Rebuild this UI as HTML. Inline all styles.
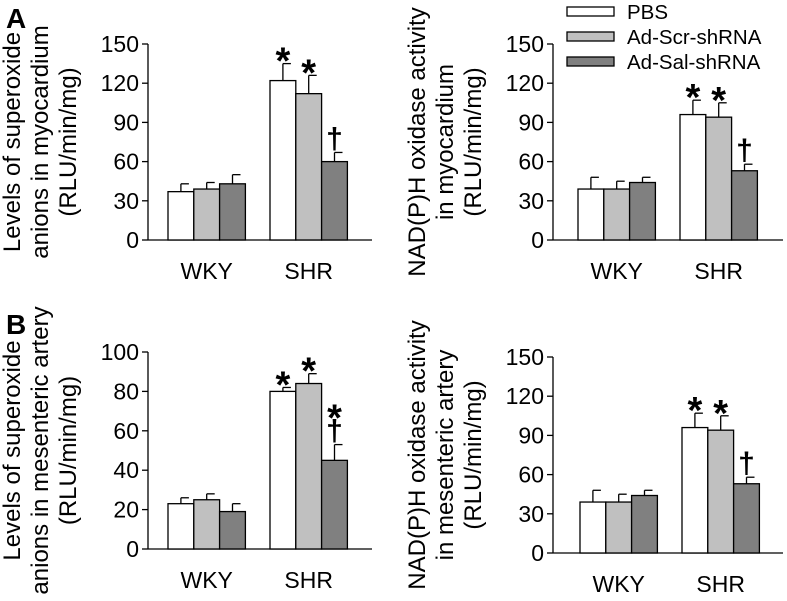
<!DOCTYPE html>
<html><head><meta charset="utf-8"><style>
body{margin:0;background:#fff;}
svg{display:block;font-family:"Liberation Sans",Arial,sans-serif;}
</style></head><body>
<svg id="fig" width="787" height="601" viewBox="0 0 787 601"></svg>
<script>
const groups = ["WKY","SHR"];
const seriesNames = ["PBS","Ad-Scr-shRNA","Ad-Sal-shRNA"];
const colors = ["#ffffff","#c0c0c0","#808080"];
// panel A left
const aLeftVals = [[37,39,43],[122,112,60]];
const aLeftErr = [[43,44,50],[135,126,67]];
const aLeftMarks = [["","",""],["*","*","†"]];
// panel A right
const aRightVals = [[39,39,44],[96,94,53]];
const aRightErr = [[48,45,48],[107,105,58]];
const aRightMarks = [["","",""],["*","*","†"]];
// panel B left
const bLeftVals = [[23,25,19],[80,84,45]];
const bLeftErr = [[26,28,23],[82,89,53]];
const bLeftMarks = [["","",""],["*","*","*†"]];
// panel B right
const bRightVals = [[39,39,44],[96,94,53]];
const bRightErr = [[48,45,48],[107,105,58]];
const bRightMarks = [["","",""],["*","*","†"]];
const ticks150 = [0,30,60,90,120,150];
const ticks100 = [0,20,40,60,80,100];

const NS="http://www.w3.org/2000/svg";
const svg=document.getElementById('fig');
function mk(tag,attrs,parent){const e=document.createElementNS(NS,tag);for(const k in attrs)e.setAttribute(k,attrs[k]);(parent||svg).appendChild(e);return e;}

function panel(cfg){
  const g=mk('g',{});
  
  
  const ymax=cfg.ticks[cfg.ticks.length-1];
  const y=v=>cfg.y0-(v/ymax)*(cfg.y0-cfg.yTop);
  const ax=mk('line',{x1:cfg.ax,y1:cfg.yTop,x2:cfg.ax,y2:cfg.y0,stroke:'#000','stroke-width':1.3},g);
  
  
  const xa=mk('line',{x1:cfg.ax,y1:cfg.y0,x2:cfg.axEnd,y2:cfg.y0,stroke:'#000','stroke-width':1.3},g);
  
  
  cfg.ticks.forEach(t=>{
    mk('line',{x1:cfg.ax-6,y1:y(t),x2:cfg.ax,y2:y(t),stroke:'#000','stroke-width':1.3},g);
    const tl=mk('text',{x:cfg.ax-9,y:y(t)+8,'text-anchor':'end','font-size':23},g);
    tl.textContent=t;
    
    
  });
  const bw=25.8;
  groups.forEach((gn,gi)=>{
    const gx=cfg.groupX[gi];
    for(let s=0;s<3;s++){
      const v=cfg.vals[gi][s],e=cfg.err[gi][s];
      const x=gx+s*bw, cx=x+bw/2;
      mk('line',{x1:cx,y1:y(e),x2:cx,y2:y(v),stroke:'#000','stroke-width':1.3},g);
      mk('line',{x1:cx,y1:y(e),x2:cx+8,y2:y(e),stroke:'#000','stroke-width':1.3},g);
      const r=mk('rect',{x:x,y:y(v),width:bw,height:y(0)-y(v),fill:colors[s],stroke:'#000','stroke-width':1.3},g);
      
      
      const m=cfg.marks[gi][s];
      if(m){
        let yy=y(e)-4;
        const chars=m.split('').reverse();
        chars.forEach(ch=>{
          const t=mk('text',{x:cx,y:ch==='*'?yy+14:yy,'text-anchor':'middle','font-size':ch==='*'?38:30,'font-weight':'bold'},g);
          t.textContent=ch;
          
          
          yy-=24;
        });
      }
    }
    const cl=mk('text',{x:gx+1.5*bw,y:cfg.y0+39,'text-anchor':'middle','font-size':23},g);
    cl.textContent=gn;
    
    
  });
  const ymid=(cfg.y0+cfg.yTop)/2;
  cfg.title.forEach((ln,i)=>{
    const tx=cfg.titleX[i];
    const t=mk('text',{x:tx,y:ymid,'text-anchor':'middle','font-size':24,transform:`rotate(-90 ${tx} ${ymid})`},g);
    t.textContent=ln;
    
    
  });
}

panel({name:'panel-a-left',ax:148,axEnd:372,yTop:44,y0:240,ticks:ticks150,groupX:[168,270],vals:aLeftVals,err:aLeftErr,marks:aLeftMarks,
  title:["Levels of superoxide","anions in myocardium","(RLU/min/mg)"],titleX:[20,48,76]});
panel({name:'panel-a-right',ax:553,axEnd:783,yTop:44,y0:240,ticks:ticks150,groupX:[578,680],vals:aRightVals,err:aRightErr,marks:aRightMarks,
  title:["NAD(P)H oxidase activity","in myocardium","(RLU/min/mg)"],titleX:[425,453,481]});
panel({name:'panel-b-left',ax:148,axEnd:372,yTop:352,y0:549,ticks:ticks100,groupX:[168,270],vals:bLeftVals,err:bLeftErr,marks:bLeftMarks,
  title:["Levels of superoxide","anions in mesenteric artery","(RLU/min/mg)"],titleX:[20,48,76]});
panel({name:'panel-b-right',ax:553,axEnd:783,yTop:357,y0:553,ticks:ticks150,groupX:[580,682],vals:bRightVals,err:bRightErr,marks:bRightMarks,
  title:["NAD(P)H oxidase activity","in mesenteric artery","(RLU/min/mg)"],titleX:[425,453,481]});

const la=mk('text',{x:6,y:28,'font-size':28,'font-weight':'bold'});la.textContent='A';


const lb=mk('text',{x:6,y:334,'font-size':28,'font-weight':'bold'});lb.textContent='B';



const leg=mk('g',{});


seriesNames.forEach((n,i)=>{
  const yy=7+i*25;
  const r=mk('rect',{x:567,y:yy,width:47,height:9,fill:colors[i],stroke:'#000','stroke-width':1.3},leg);
  
  
  const t=mk('text',{x:627,y:yy+12,'font-size':20.5},leg);
  t.textContent=n;
  
  
});
</script>
</body></html>
